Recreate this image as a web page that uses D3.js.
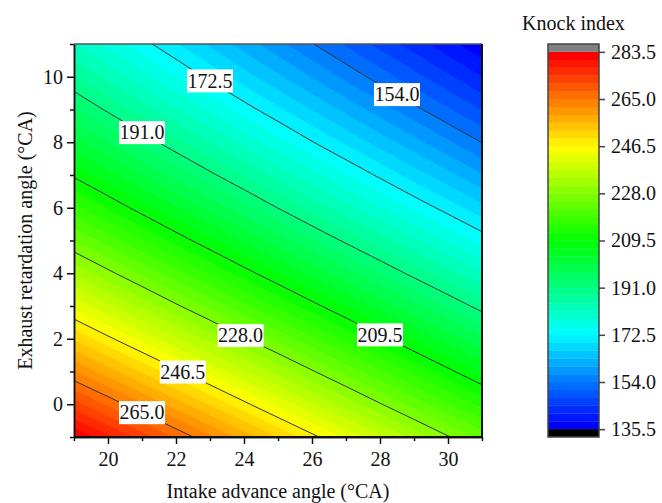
<!DOCTYPE html>
<html>
<head>
<meta charset="utf-8">
<script src="https://cdn.jsdelivr.net/npm/d3@7"></script>
<style>
  body { margin: 0; background: #fff; }
  text { font-family: "Liberation Serif", "Times New Roman", serif; fill: #111; }
</style>
</head>
<body>
<div id="chart"></div>
<script>
// grid: rows = exhaust retardation angle, columns = intake advance angle
const intakeAngles = [19, 20, 21, 22, 23, 24, 25, 26, 27, 28, 29, 30, 31];
const exhaustAngles = [-1, 0, 1, 2, 3, 4, 5, 6, 7, 8, 9, 10, 11];
const knockIndex = [
  [283.3, 278.0, 272.8, 267.6, 262.5, 257.4, 252.4, 247.5, 242.6, 237.8, 233.0, 228.3, 223.7],
  [272.5, 267.4, 262.3, 257.2, 252.3, 247.4, 242.5, 237.7, 233.0, 228.3, 223.7, 219.2, 214.7],
  [262.1, 257.1, 252.2, 247.3, 242.5, 237.7, 233.0, 228.4, 223.8, 219.3, 214.8, 210.4, 206.0],
  [252.2, 247.3, 242.5, 237.8, 233.1, 228.4, 223.9, 219.4, 214.9, 210.5, 206.2, 201.9, 197.7],
  [242.7, 237.9, 233.3, 228.6, 224.1, 219.5, 215.1, 210.7, 206.4, 202.1, 197.9, 193.7, 189.6],
  [233.6, 229.0, 224.4, 219.9, 215.4, 211.0, 206.7, 202.4, 198.2, 194.0, 189.9, 185.9, 181.9],
  [225.0, 220.4, 215.9, 211.5, 207.2, 202.9, 198.6, 194.4, 190.3, 186.3, 182.2, 178.3, 174.4],
  [216.7, 212.3, 207.9, 203.6, 199.3, 195.1, 190.9, 186.8, 182.8, 178.8, 174.9, 171.1, 167.3],
  [208.9, 204.6, 200.2, 196.0, 191.8, 187.7, 183.6, 179.6, 175.7, 171.8, 167.9, 164.2, 160.4],
  [201.5, 197.2, 193.0, 188.8, 184.7, 180.7, 176.7, 172.7, 168.8, 165.0, 161.3, 157.5, 153.9],
  [194.6, 190.4, 186.2, 182.1, 178.0, 174.0, 170.1, 166.2, 162.4, 158.6, 154.9, 151.3, 147.7],
  [188.1, 183.9, 179.7, 175.7, 171.7, 167.7, 163.8, 160.0, 156.2, 152.5, 148.9, 145.3, 141.7],
  [182.0, 177.8, 173.7, 169.7, 165.7, 161.8, 158.0, 154.2, 150.5, 146.8, 143.2, 139.6, 136.1]
];
const lineLevels = [154.0, 172.5, 191.0, 209.5, 228.0, 246.5, 265.0];
const labelIntake = [28.5, 23.0, 21.0, 28.0, 23.9, 22.2, 21.0];
const colorbarTicks = [135.5, 154.0, 172.5, 191.0, 209.5, 228.0, 246.5, 265.0, 283.5];
const xTicks = [20, 22, 24, 26, 28, 30];
const yTicks = [0, 2, 4, 6, 8, 10];
const zMin = 135.5, zMax = 283.5, bandCount = 48;

let W = 662, H = 503;
let plot = { left: 74, top: 44, right: 482, bottom: 437 };
let step = (zMax - zMin) / bandCount;

let svg = d3.select("#chart").append("svg")
  .attr("width", W)
  .attr("height", H);

let x = d3.scaleLinear().domain([19, 31]).range([plot.left, plot.right]);
let y = d3.scaleLinear().domain([-1, 11]).range([plot.bottom, plot.top]);

let rainbow = d3.scaleLinear()
  .domain([0, 0.25, 0.5, 0.75, 1])
  .range(["#0000ff", "#00ffff", "#00ff00", "#ffff00", "#ff0000"]);
let bandColor = i => rainbow(i / (bandCount - 1));

// grid index -> data coords (d3.contours puts samples at cell centres)
let gx = d3.scaleLinear().domain([0.5, intakeAngles.length - 0.5]).range([intakeAngles[0], intakeAngles[intakeAngles.length - 1]]);
let gy = d3.scaleLinear().domain([0.5, exhaustAngles.length - 0.5]).range([exhaustAngles[0], exhaustAngles[exhaustAngles.length - 1]]);
let path = d3.geoPath(d3.geoTransform({
  point: function (cx, cy) { this.stream.point(x(gx(cx)), y(gy(cy))); }
}));

let values = knockIndex.flat();
let n = intakeAngles.length, m = exhaustAngles.length;

svg.append("clipPath").attr("id", "clip")
  .append("rect")
  .attr("x", plot.left).attr("y", plot.top)
  .attr("width", plot.right - plot.left).attr("height", plot.bottom - plot.top);

let field = svg.append("g").attr("clip-path", "url(#clip)");

let bandThresholds = d3.range(bandCount).map(i => zMin + i * step);
let bands = d3.contours().size([n, m]).thresholds(bandThresholds)(values);
field.selectAll("path.band")
  .data(bands)
  .enter()
  .append("path")
  .attr("class", "band")
  .attr("d", path)
  .attr("fill", (d, i) => bandColor(i))
  .attr("stroke", (d, i) => bandColor(i))
  .attr("stroke-width", 0.3);

let isolines = d3.contours().size([n, m]).thresholds(lineLevels)(values);
field.selectAll("path.iso")
  .data(isolines)
  .enter()
  .append("path")
  .attr("class", "iso")
  .attr("d", path)
  .attr("fill", "none")
  .attr("stroke", "#333")
  .attr("stroke-width", 1);

// bilinear lookup to sit each label on its line
function zAt(xv, yv) {
  let fx = xv - intakeAngles[0], fy = yv - exhaustAngles[0];
  let i = Math.min(Math.floor(fx), n - 2), j = Math.min(Math.floor(fy), m - 2);
  let tx = fx - i, ty = fy - j;
  return knockIndex[j][i] * (1 - tx) * (1 - ty) + knockIndex[j][i + 1] * tx * (1 - ty)
    + knockIndex[j + 1][i] * (1 - tx) * ty + knockIndex[j + 1][i + 1] * tx * ty;
}
function yOnLevel(xv, level) {
  let lo = -1, hi = 11;
  for (let k = 0; k < 40; k++) {
    let mid = (lo + hi) / 2;
    if (zAt(xv, mid) > level) lo = mid; else hi = mid;
  }
  return (lo + hi) / 2;
}

lineLevels.forEach(function (level, k) {
  let cx = x(labelIntake[k]);
  let cy = y(yOnLevel(labelIntake[k], level));
  let g = svg.append("g");
  let rect = g.append("rect").attr("fill", "#fff");
  let t = g.append("text")
    .attr("x", cx)
    .attr("y", cy + 6.8)
    .attr("text-anchor", "middle")
    .style("font-size", "20px")
    .text(level.toFixed(1));
  let bb = t.node().getBBox();
  rect.attr("x", bb.x - 0.5).attr("y", cy - 11.5)
    .attr("width", bb.width + 1).attr("height", 23);
});

// axes
let xAxis = svg.append("g")
  .attr("transform", `translate(0, ${plot.bottom})`)
  .call(d3.axisBottom(x).tickValues(xTicks).tickSize(7).tickPadding(8).tickSizeOuter(0).tickFormat(d3.format("d")));
svg.append("g")
  .attr("transform", `translate(0, ${plot.bottom})`)
  .call(d3.axisBottom(x).tickValues(d3.range(19, 32, 2)).tickSize(4).tickSizeOuter(0).tickFormat(""));
let yAxis = svg.append("g")
  .attr("transform", `translate(${plot.left}, 0)`)
  .call(d3.axisLeft(y).tickValues(yTicks).tickSize(7).tickPadding(4).tickSizeOuter(0).tickFormat(d3.format("d")));
svg.append("g")
  .attr("transform", `translate(${plot.left}, 0)`)
  .call(d3.axisLeft(y).tickValues(d3.range(-1, 12, 2)).tickSize(4).tickSizeOuter(0).tickFormat(""));

svg.selectAll(".tick text").style("font-size", "20px").attr("fill", "#111");
svg.selectAll(".tick line").attr("stroke", "#111").attr("stroke-width", 1.5);
svg.selectAll(".domain").attr("stroke", "#111").attr("stroke-width", 1.5);

// top and right frame
svg.append("line")
  .attr("x1", plot.left).attr("x2", plot.right)
  .attr("y1", plot.top).attr("y2", plot.top)
  .attr("stroke", "#555").attr("stroke-width", 1.5);
svg.append("line")
  .attr("x1", plot.right).attr("x2", plot.right)
  .attr("y1", plot.top).attr("y2", plot.bottom)
  .attr("stroke", "#111").attr("stroke-width", 2);
svg.append("line")
  .attr("x1", plot.left).attr("x2", plot.right)
  .attr("y1", plot.bottom).attr("y2", plot.bottom)
  .attr("stroke", "#111").attr("stroke-width", 2);

svg.append("text")
  .attr("x", (plot.left + plot.right) / 2)
  .attr("y", 498)
  .attr("text-anchor", "middle")
  .style("font-size", "20px")
  .text("Intake advance angle (°CA)");
svg.append("text")
  .attr("transform", `translate(32, ${(plot.top + plot.bottom) / 2}) rotate(-90)`)
  .attr("text-anchor", "middle")
  .style("font-size", "20px")
  .text("Exhaust retardation angle (°CA)");

// colour bar
let cbX = 548, cbW = 51;
let cb = d3.scaleLinear().domain([zMin - step, zMax + step]).range([plot.bottom, plot.top]);
let cbg = svg.append("g");
cbg.selectAll("rect.cb")
  .data(bandThresholds)
  .enter()
  .append("rect")
  .attr("class", "cb")
  .attr("x", cbX)
  .attr("y", d => cb(d + step))
  .attr("width", cbW)
  .attr("height", d => cb(d) - cb(d + step) + 0.3)
  .attr("fill", (d, i) => bandColor(i));
cbg.append("rect")
  .attr("x", cbX).attr("y", cb(zMax + step))
  .attr("width", cbW).attr("height", cb(zMax) - cb(zMax + step))
  .attr("fill", "#808080");
cbg.append("rect")
  .attr("x", cbX).attr("y", cb(zMin))
  .attr("width", cbW).attr("height", cb(zMin - step) - cb(zMin))
  .attr("fill", "#000");
cbg.append("rect")
  .attr("x", cbX).attr("y", plot.top)
  .attr("width", cbW).attr("height", plot.bottom - plot.top)
  .attr("fill", "none").attr("stroke", "#444").attr("stroke-width", 1.5);

let cbAxis = svg.append("g")
  .attr("transform", `translate(${cbX + cbW}, 0)`)
  .call(d3.axisRight(cb).tickValues(colorbarTicks).tickSize(6).tickPadding(6).tickSizeOuter(0).tickFormat(d3.format(".1f")));
cbAxis.select(".domain").remove();
cbAxis.selectAll(".tick text").style("font-size", "20px").attr("fill", "#111");
cbAxis.selectAll(".tick line").attr("stroke", "#444").attr("stroke-width", 1.5);

svg.append("text")
  .attr("x", cbX + cbW / 2)
  .attr("y", 30)
  .attr("text-anchor", "middle")
  .style("font-size", "20px")
  .text("Knock index");
</script>
</body>
</html>
